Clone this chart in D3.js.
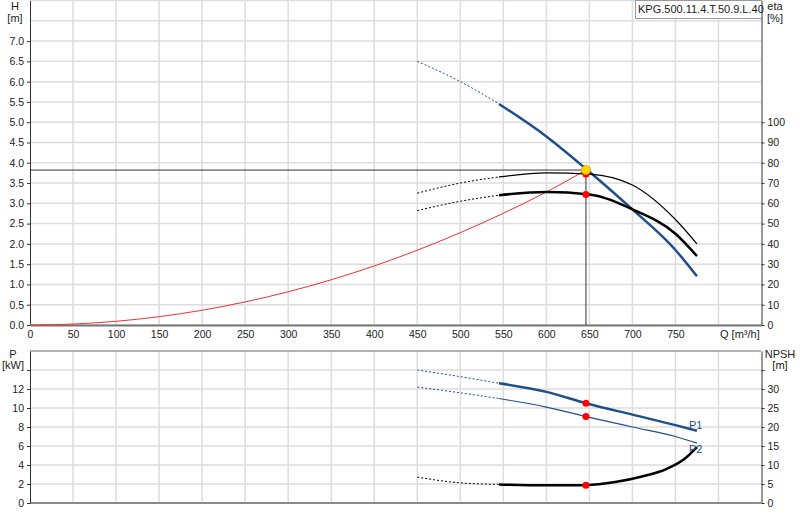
<!DOCTYPE html><html><head><meta charset="utf-8"><script src="https://cdn.jsdelivr.net/npm/d3@7"></script>
<style>body{margin:0;background:#fff}text{font-family:Arial,"Liberation Sans",sans-serif;font-size:11px;fill:#222}</style></head><body>
<svg id="c" width="800" height="520"></svg>
<script>
const xTicks=[0,50,100,150,200,250,300,350,400,450,500,550,600,650,700,750];
const hTicks=[0,0.5,1,1.5,2,2.5,3,3.5,4,4.5,5,5.5,6,6.5,7];
const etaTicks=[0,10,20,30,40,50,60,70,80,90,100];
const pTicks=[0,2,4,6,8,10,12,14];
const npshTicks=[0,5,10,15,20,25,30,35];
const hDash=[[450,6.5],[500,6.0],[545,5.45]];
const hCurve=[[545,5.45],[600,4.65],[650,3.78],[700,2.85],[750,1.85],[775,1.2]];
const eta1Dash=[[450,65],[500,70],[545,73]];
const eta1=[[545,73],[600,75],[650,74.4],[700,69],[750,52],[775,40]];
const eta2Dash=[[450,56.4],[500,61],[545,64]];
const eta2=[[545,64],[600,65.6],[650,64.4],[700,57],[750,45],[775,34]];
const sysQ=[0,50,100,150,200,250,300,350,400,450,500,550,600,646];
const sysH=[0,0.023,0.091,0.205,0.364,0.569,0.819,1.115,1.456,1.843,2.276,2.754,3.277,3.82];
const op={q:646,h:3.82,eta1:74.4,eta2:64.4,p1:10.5,p2:9.1,npsh:4.7};
const p1Dash=[[450,14.0],[500,13.3],[545,12.6]];
const p1=[[545,12.6],[600,11.7],[646,10.5],[700,9.3],[750,8.2],[775,7.6]];
const p2Dash=[[450,12.2],[500,11.6],[545,11.0]];
const p2=[[545,11.0],[600,10.1],[646,9.1],[700,8.0],[750,7.0],[775,6.3]];
const npDash=[[450,6.8],[500,5.3],[545,4.9]];
const np=[[545,4.9],[600,4.65],[646,4.7],[680,5.5],[710,6.9],[740,9],[760,11.5],[775,14.7]];

const svg=d3.select("#c");
const x=d3.scaleLinear().domain([0,850]).range([30,761.5]);
const yH=d3.scaleLinear().domain([0,8]).range([325,0.5]);
const yE=d3.scaleLinear().domain([0,160]).range([325,0.5]);
const yP=d3.scaleLinear().domain([0,16]).range([503,351]);
const yN=d3.scaleLinear().domain([0,40]).range([503,351]);
const grid="#ddd";
svg.append("g").selectAll("line").data(d3.range(0,8.01,0.5)).join("line").attr("x1",30).attr("x2",761).attr("y1",d=>yH(d)).attr("y2",d=>yH(d)).attr("stroke",grid).attr("stroke-width",1.5);
svg.append("g").selectAll("line").data(d3.range(50,801,50)).join("line").attr("x1",d=>x(d)).attr("x2",d=>x(d)).attr("y1",0).attr("y2",325).attr("stroke",grid).attr("stroke-width",1.5);
svg.append("g").selectAll("line").data(pTicks).join("line").attr("x1",30).attr("x2",761).attr("y1",d=>yP(d)).attr("y2",d=>yP(d)).attr("stroke",grid).attr("stroke-width",1.5);
svg.append("g").selectAll("line").data(d3.range(50,801,50)).join("line").attr("x1",d=>x(d)).attr("x2",d=>x(d)).attr("y1",351).attr("y2",503).attr("stroke",grid).attr("stroke-width",1.5);
function ax(g){g.selectAll(".domain").attr("stroke","#333");g.selectAll(".tick line").attr("stroke","#333");}
svg.append("g").attr("transform","translate(30,0)").call(d3.axisLeft(yH).tickValues(hTicks).tickFormat(d3.format(".1f")).tickSize(3).tickSizeOuter(0)).call(ax);
svg.append("g").attr("transform","translate(761.5,0)").call(d3.axisRight(yE).tickValues(etaTicks).tickSize(3).tickSizeOuter(0)).call(ax);
svg.append("g").attr("transform","translate(0,325)").call(d3.axisBottom(x).tickValues(xTicks).tickSize(0).tickPadding(6).tickSizeOuter(0)).call(ax).select(".domain").attr("stroke","#777").attr("stroke-width",2);
svg.append("g").attr("transform","translate(30,0)").call(d3.axisLeft(yP).tickValues(pTicks).tickFormat(d=>d===14?"":d).tickSize(3).tickSizeOuter(0)).call(ax);
svg.append("g").attr("transform","translate(761.5,0)").call(d3.axisRight(yN).tickValues(npshTicks).tickFormat(d=>d===35?"":d).tickSize(3).tickSizeOuter(0)).call(ax);
svg.append("line").attr("x1",30).attr("x2",761).attr("y1",503).attr("y2",503).attr("stroke","#333");
svg.append("line").attr("x1",30).attr("x2",761).attr("y1",351).attr("y2",351).attr("stroke","#666");
svg.selectAll(".tick text").style("font-size","10.5px");
const T=(t,xx,yy,a)=>svg.append("text").attr("x",xx).attr("y",yy).attr("text-anchor",a||"middle").text(t);
T("H",15,10);T("[m]",15,22);T("eta",775,10,"middle");T("[%]",775,22);
T("P",13,358);T("[kW]",13,369);T("NPSH",780,358);T("[m]",780,369);
T("Q [m³/h]",720,338,"start");
svg.append("rect").attr("x",635.5).attr("y",0.5).attr("width",126).attr("height",18).attr("fill","#fff").attr("stroke","#999");
T("KPG.500.11.4.T.50.9.L.40",638,13,"start");
function L(data,sx,sy,col,w,dash){svg.append("path").datum(data).attr("d",d3.line().x(d=>sx(d[0])).y(d=>sy(d[1])).curve(d3.curveMonotoneX)).attr("fill","none").attr("stroke",col).attr("stroke-width",w).attr("stroke-dasharray",dash||null);}
L(sysQ.map((q,i)=>[q,sysH[i]]),x,yH,"#f03030",1);
L(hDash,x,yH,"#1f4f8a",1,"2,2");L(hCurve,x,yH,"#1f4f8a",2.5);
L(eta1Dash,x,yE,"#000",1,"2,2");L(eta1,x,yE,"#000",1.2);
L(eta2Dash,x,yE,"#000",1,"2,2");L(eta2,x,yE,"#000",2.5);
svg.append("line").attr("x1",30).attr("x2",x(op.q)).attr("y1",yH(op.h)).attr("y2",yH(op.h)).attr("stroke","#333");
svg.append("line").attr("x1",x(op.q)).attr("x2",x(op.q)).attr("y1",yH(op.h)).attr("y2",325).attr("stroke","#333");
const dot=(cx,cy,f,r)=>svg.append("circle").attr("cx",cx).attr("cy",cy).attr("r",r||3.5).attr("fill",f);
dot(x(op.q),yE(op.eta1),"#f00");dot(x(op.q),yE(op.eta2),"#f00");
svg.append("circle").attr("cx",x(op.q)).attr("cy",yH(op.h)).attr("r",4.5).attr("fill","#ffd700").attr("stroke","#f90");
L(p1Dash,x,yP,"#1f4f8a",1,"2,2");L(p1,x,yP,"#1f4f8a",2.5);
L(p2Dash,x,yP,"#1f4f8a",1,"2,2");L(p2,x,yP,"#1f4f8a",1.2);
L(npDash,x,yN,"#000",1,"2,2");L(np,x,yN,"#000",2.5);
dot(x(op.q),yP(op.p1),"#f00");dot(x(op.q),yP(op.p2),"#f00");dot(x(op.q),yN(op.npsh),"#f00");
svg.append("text").attr("x",x(775)-8).attr("y",yP(7.6)-2).style("fill","#1f4f8a").text("P1");
svg.append("text").attr("x",x(775)-8).attr("y",yP(6.3)+10).style("fill","#1f4f8a").text("P2");
</script></body></html>
